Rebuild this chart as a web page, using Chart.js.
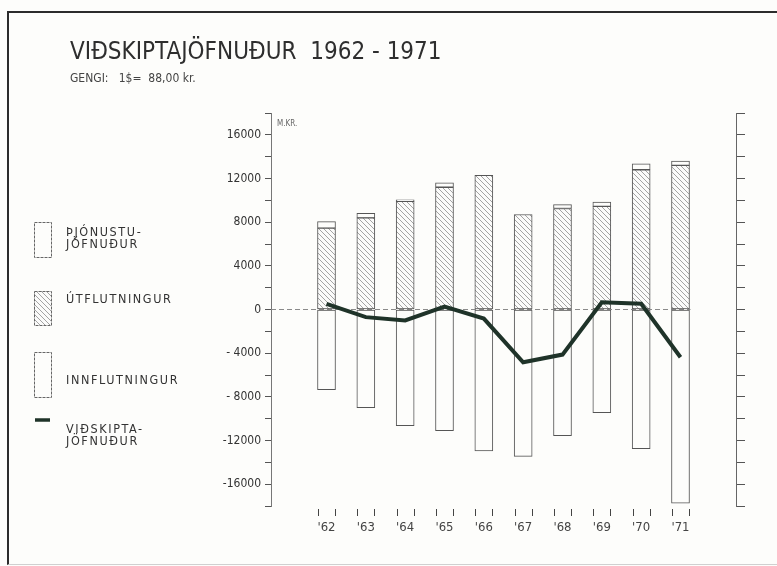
<!DOCTYPE html>
<html>
<head>
<meta charset="utf-8">
<title>Viðskiptajöfnuður 1962-1971</title>
<script src="https://cdn.jsdelivr.net/npm/chart.js@4.4.1/dist/chart.umd.min.js"></script>
<style>
  html, body { margin: 0; padding: 0; background: #fdfdfb; }
  #wrap { position: relative; width: 777px; height: 566px; overflow: hidden; }
  #frame { position: absolute; left: 7px; top: 11px; width: 780px; height: 551px;
           border-top: 2px solid #2c2c2c; border-left: 2px solid #2c2c2c; border-bottom: 1px solid #d0d0d0;
           pointer-events: none; }
  canvas { position: absolute; left: 0; top: 0; }
</style>
</head>
<body>
<div id="wrap">
  <canvas id="tradeChart" width="777" height="566"></canvas>
  <div id="frame"></div>
</div>
<script>
// Viðskiptajöfnuður 1962-1971 (M.KR.)

const years = ["'62", "'63", "'64", "'65", "'66", "'67", "'68", "'69", "'70", "'71"];
const exports = [7450, 8400, 9900, 11200, 12300, 8700, 9250, 9450, 12800, 13200];
const services = [600, 400, 150, 400, 0, 0, 350, 400, 550, 400];
const imports = [-7350, -9000, -10650, -11100, -12950, -13450, -11550, -9450, -12750, -17750];
const balance = [520, -700, -1000, 270, -830, -4830, -4130, 670, 520, -4370];

const yMin = -18000;
const yMax = 18000;
const yStep = 2000;

const FONT = "'Liberation Sans Narrow', 'DejaVu Sans Condensed', 'Liberation Sans', sans-serif";
const INK = '#333';
const EDGE = '#555';

// diagonal hatch for exports
function makeHatch() {
  const c = document.createElement('canvas');
  c.width = 5; c.height = 5;
  const g = c.getContext('2d');
  g.fillStyle = '#fbfbfa';
  g.fillRect(0, 0, 5, 5);
  g.strokeStyle = '#999';
  g.lineWidth = 0.9;
  g.beginPath();
  g.moveTo(-1, -1); g.lineTo(6, 6);
  g.moveTo(-1, 4); g.lineTo(1, 6);
  g.moveTo(4, -1); g.lineTo(6, 1);
  g.stroke();
  return g.createPattern(c, 'repeat');
}
const hatch = makeHatch();

const pts = arr => arr.map((v, i) => ({ x: i, y: v }));

// zero line, x tick pairs, M.KR. and the legend
const extras = {
  id: 'extras',
  beforeDatasetsDraw(chart) {
    const { ctx, chartArea, scales: { x, y } } = chart;
    const y0 = y.getPixelForValue(0);
    ctx.save();
    ctx.strokeStyle = '#8a8a8a';
    ctx.lineWidth = 1;
    ctx.setLineDash([5, 3]);
    ctx.beginPath();
    ctx.moveTo(chartArea.left, y0);
    ctx.lineTo(x.getPixelForValue(years.length - 1) + 10, y0);
    ctx.stroke();
    ctx.restore();
  },
  afterDraw(chart) {
    const { ctx, chartArea, scales: { x } } = chart;
    ctx.save();

    // paired tick marks at bar edges
    ctx.strokeStyle = '#444';
    ctx.lineWidth = 1;
    years.forEach((_, i) => {
      const px = x.getPixelForValue(i);
      [-8.5, 8.5].forEach(d => {
        ctx.beginPath();
        ctx.moveTo(Math.round(px + d) + 0.5, chartArea.bottom + 3);
        ctx.lineTo(Math.round(px + d) + 0.5, chartArea.bottom + 10);
        ctx.stroke();
      });
    });

    ctx.fillStyle = '#666';
    ctx.font = '8px ' + FONT;
    ctx.textBaseline = 'alphabetic';
    ctx.fillText('M.KR.', chartArea.left + 6, chartArea.top + 13);

    // legend
    const items = [
      { fill: '#fdfdfb', box: [34, 222, 17, 35], text: ['ÞJÓNUSTU-', 'JÖFNUÐUR'], base: 236 },
      { fill: hatch, box: [34, 291, 17, 34], text: ['ÚTFLUTNINGUR'], base: 303 },
      { fill: '#fdfdfb', box: [34, 352, 17, 45], text: ['INNFLUTNINGUR'], base: 384 },
      { line: true, text: ['VIÐSKIPTA-', 'JÖFNUÐUR'], base: 433 }
    ];
    items.forEach(it => {
      if (it.line) {
        ctx.strokeStyle = '#1f3329';
        ctx.lineWidth = 3.5;
        ctx.beginPath();
        ctx.moveTo(35, 420); ctx.lineTo(50, 420);
        ctx.stroke();
      } else {
        const [bx, by, bw, bh] = it.box;
        ctx.fillStyle = it.fill;
        ctx.fillRect(bx, by, bw, bh);
        ctx.strokeStyle = '#666';
        ctx.lineWidth = 1;
        ctx.setLineDash([3, 1]);
        ctx.strokeRect(bx + 0.5, by + 0.5, bw, bh);
        ctx.setLineDash([]);
      }
      ctx.fillStyle = INK;
      ctx.font = '12.5px ' + FONT;
      ctx.letterSpacing = '1.6px';
      it.text.forEach((t, k) => ctx.fillText(t, 66, it.base + k * 12));
    });
    ctx.restore();
  }
};

new Chart(document.getElementById('tradeChart'), {
  data: {
    datasets: [
      {
        type: 'bar', label: 'ÚTFLUTNINGUR', data: pts(exports), stack: 'trade', order: 2,
        backgroundColor: hatch, borderColor: EDGE, borderWidth: 1, borderSkipped: false, barThickness: 18
      },
      {
        type: 'bar', label: 'ÞJÓNUSTUJÖFNUÐUR', data: pts(services), stack: 'trade', order: 2,
        backgroundColor: '#fdfdfb', borderColor: EDGE, borderWidth: 1, borderSkipped: false, barThickness: 18
      },
      {
        type: 'bar', label: 'INNFLUTNINGUR', data: pts(imports), stack: 'trade', order: 2,
        backgroundColor: '#fdfdfb', borderColor: EDGE, borderWidth: 1, borderSkipped: false, barThickness: 18
      },
      {
        type: 'line', label: 'VIÐSKIPTAJÖFNUÐUR', data: pts(balance), stack: 'bal', order: 0,
        borderColor: '#1f3329', borderWidth: 4, pointRadius: 0, tension: 0, fill: false
      }
    ]
  },
  options: {
    responsive: false,
    animation: false,
    layout: { padding: { left: 70, right: 29, top: 0, bottom: 20 } },
    plugins: {
      legend: { display: false },
      tooltip: { enabled: false },
      title: {
        display: true,
        text: 'VIÐSKIPTAJÖFNUÐUR  1962 - 1971',
        align: 'start',
        color: '#2e2e2e',
        font: { family: FONT, size: 24, weight: 'normal', lineHeight: 1 },
        padding: { top: 41, bottom: 0 }
      },
      subtitle: {
        display: true,
        text: 'GENGI:   1$=  88,00 kr.',
        align: 'start',
        color: '#444',
        font: { family: FONT, size: 12, weight: 'normal', lineHeight: 1 },
        padding: { top: 8, bottom: 28 }
      }
    },
    scales: {
      x: {
        type: 'linear',
        stacked: true,
        min: -0.82,
        max: 9.82,
        grid: { display: false, drawTicks: false },
        border: { display: false },
        ticks: {
          stepSize: 1,
          includeBounds: false,
          autoSkip: false,
          maxRotation: 0,
          padding: 14,
          color: '#444',
          font: { family: FONT, size: 13 },
          callback: v => years[v] ?? ''
        },
        afterFit: s => { s.height = 40; }
      },
      y: {
        position: 'left',
        stacked: true,
        min: yMin,
        max: yMax,
        grid: { drawOnChartArea: false, tickLength: 6, color: '#555' },
        border: { color: '#777', dash: [7, 2] },
        ticks: {
          stepSize: yStep,
          autoSkip: false,
          padding: 4,
          color: INK,
          font: { family: FONT, size: 12 },
          callback: v => {
            if (v % 4000 !== 0 || Math.abs(v) > 16000) return '';
            if (v >= 0) return String(v);
            return (v > -10000 ? '- ' : '-') + (-v);
          }
        },
        afterFit: s => { s.width = 201; }
      },
      y2: {
        position: 'right',
        min: yMin,
        max: yMax,
        grid: { drawOnChartArea: false, tickLength: 9, color: '#555' },
        border: { color: '#666', dash: [7, 2] },
        ticks: { stepSize: yStep, autoSkip: false, display: false },
        afterFit: s => { s.width = 12; }
      }
    }
  },
  plugins: [extras]
});
</script>
</body>
</html>
